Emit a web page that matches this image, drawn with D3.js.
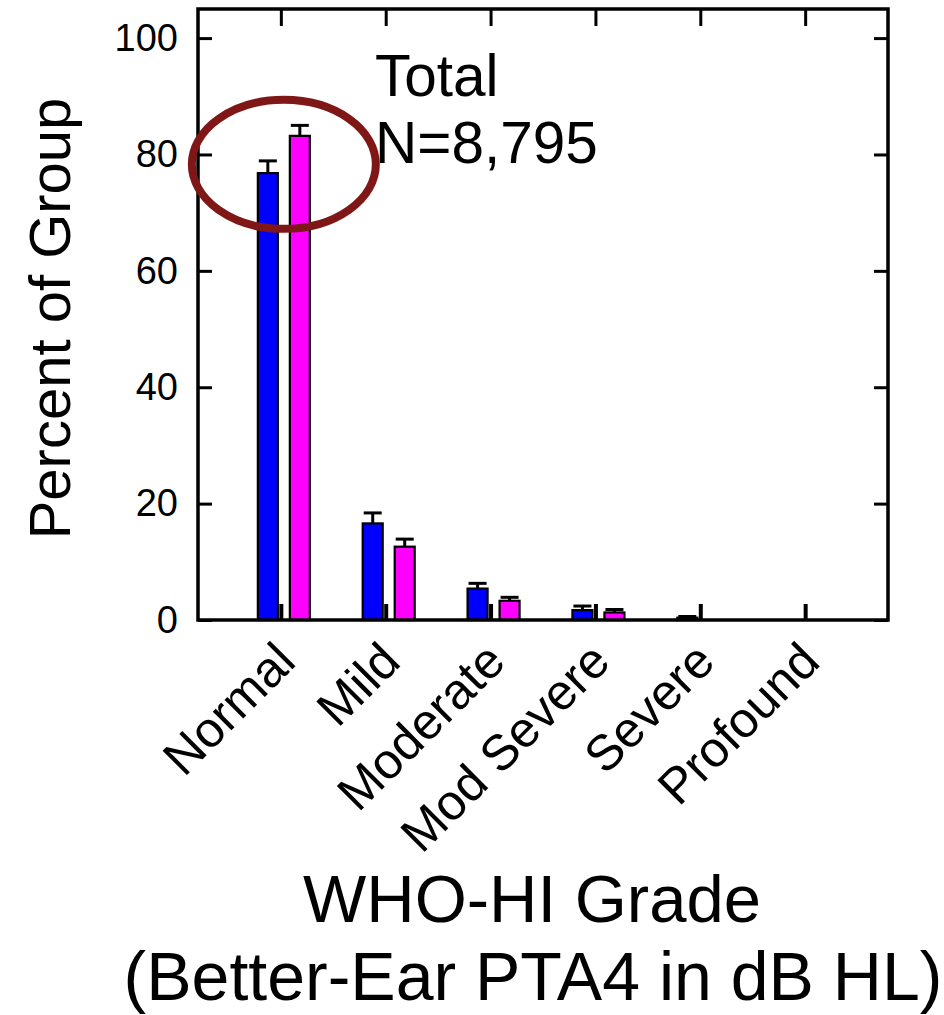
<!DOCTYPE html>
<html>
<head>
<meta charset="utf-8">
<script src="https://cdn.jsdelivr.net/npm/d3@7"></script>
<style>
  html, body { margin: 0; padding: 0; background: #fff; }
  svg { display: block; }
  text { font-family: "Liberation Sans", Arial, sans-serif; fill: #000; }
</style>
</head>
<body>
<div id="chart"></div>
<script>
// WHO hearing-impairment grade distribution, two groups
const categories = ["Normal", "Mild", "Moderate", "Mod Severe", "Severe", "Profound"];
const seriesKeys = ["groupA", "groupB"];
const seriesColors = ["#0000ff", "#ff00ff"];
const groupAValues = [76.8, 16.6, 5.4, 1.7, 0.4, 0];
const groupBValues = [83.2, 12.6, 3.3, 1.3, 0, 0];
const groupAErrors = [2.1, 1.8, 0.9, 0.7, 0.2, 0];
const groupBErrors = [1.8, 1.3, 0.6, 0.5, 0, 0];
const yTicks = [0, 20, 40, 60, 80, 100];

const width = 944, height = 1015;
const plotLeft = 198, plotRight = 888, plotTop = 9, plotBottom = 620;

const svg = d3.select("#chart").append("svg")
  .attr("width", width).attr("height", height);

const x = d3.scalePoint().domain(categories).range([plotLeft, plotRight]).padding(0.79);
const inner = d3.scaleBand().domain(seriesKeys).range([-23, 29]).paddingInner(0.375);
const y = d3.scaleLinear().domain([0, 105]).range([plotBottom, plotTop]);

const rows = [];
categories.forEach((c, i) => {
  rows.push({ cat: c, key: "groupA", v: groupAValues[i], e: groupAErrors[i], color: seriesColors[0] });
  rows.push({ cat: c, key: "groupB", v: groupBValues[i], e: groupBErrors[i], color: seriesColors[1] });
});

// error bars (upper half only)
const eb = svg.append("g").attr("stroke", "#000").attr("stroke-width", 3).attr("fill", "none");
rows.filter(d => d.v > 0).forEach(d => {
  const cx = x(d.cat) + inner(d.key) + inner.bandwidth() / 2;
  eb.append("line").attr("x1", cx).attr("x2", cx).attr("y1", y(d.v)).attr("y2", y(d.v + d.e));
  eb.append("line").attr("x1", cx - 9).attr("x2", cx + 9).attr("y1", y(d.v + d.e)).attr("y2", y(d.v + d.e));
});

// bars
svg.append("g").selectAll("rect").data(rows.filter(d => d.v > 0)).join("rect")
  .attr("x", d => x(d.cat) + inner(d.key))
  .attr("width", inner.bandwidth())
  .attr("y", d => y(d.v))
  .attr("height", d => y(0) - y(d.v))
  .attr("fill", d => d.color)
  .attr("stroke", "#000")
  .attr("stroke-width", 2.2);

// axis frame with inward ticks
const axes = svg.append("g");
axes.append("g").attr("transform", `translate(${plotLeft},0)`)
  .call(d3.axisLeft(y).tickValues(yTicks).tickSize(-14).tickFormat(d3.format("d")).tickPadding(20))
  .call(g => g.select(".domain").remove())
  .call(g => g.selectAll(".tick line").attr("stroke-width", 3))
  .call(g => g.selectAll(".tick text").attr("font-size", 38).attr("font-family", "Liberation Sans, Arial, sans-serif"));
axes.append("g").attr("transform", `translate(${plotRight},0)`)
  .call(d3.axisRight(y).tickValues(yTicks).tickSize(-14).tickFormat(""))
  .call(g => g.select(".domain").remove())
  .call(g => g.selectAll(".tick line").attr("stroke-width", 3));
axes.append("g").attr("transform", `translate(0,${plotTop})`)
  .call(d3.axisTop(x).tickSize(-17).tickFormat(""))
  .call(g => g.select(".domain").remove())
  .call(g => g.selectAll(".tick line").attr("stroke-width", 3));
axes.append("g").attr("transform", `translate(0,${plotBottom})`)
  .call(d3.axisBottom(x).tickSize(-16).tickFormat(""))
  .call(g => g.select(".domain").remove())
  .call(g => g.selectAll(".tick line").attr("stroke-width", 4));
axes.append("rect")
  .attr("x", plotLeft).attr("y", plotTop).attr("width", plotRight - plotLeft).attr("height", plotBottom - plotTop)
  .attr("fill", "none").attr("stroke", "#000").attr("stroke-width", 3.5);

// rotated category labels
svg.append("g").selectAll("text").data(categories).join("text")
  .attr("transform", d => `translate(${x(d) + 17},${plotBottom + 44}) rotate(-45)`)
  .attr("text-anchor", "end")
  .attr("font-size", 50)
  .text(d => d);

// annotation
svg.append("text").attr("x", 375).attr("y", 96).attr("font-size", 58.5).text("Total");
svg.append("text").attr("x", 375).attr("y", 163).attr("font-size", 58.5).text("N=8,795");

svg.append("ellipse")
  .attr("cx", x("Normal") + 3).attr("cy", y(78.3))
  .attr("rx", 92).attr("ry", 64.5)
  .attr("fill", "none").attr("stroke", "#7f1717").attr("stroke-width", 8);

// axis titles
svg.append("text")
  .attr("transform", `translate(70,${(plotTop + plotBottom) / 2 + 4}) rotate(-90)`)
  .attr("text-anchor", "middle").attr("font-size", 58)
  .text("Percent of Group");
svg.append("text").attr("x", 532).attr("y", 922).attr("text-anchor", "middle")
  .attr("font-size", 67).text("WHO-HI Grade");
svg.append("text").attr("x", 533).attr("y", 1000).attr("text-anchor", "middle")
  .attr("font-size", 68).text("(Better-Ear PTA4 in dB HL)");
</script>
</body>
</html>
